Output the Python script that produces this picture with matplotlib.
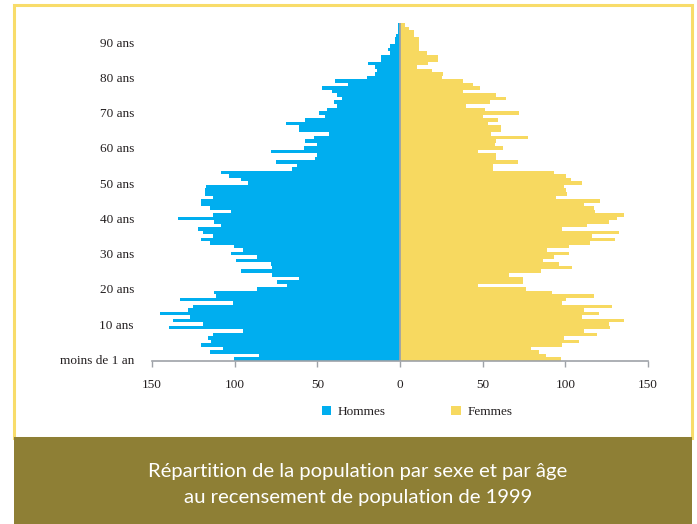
import matplotlib
matplotlib.use("Agg")
import matplotlib.pyplot as plt
from matplotlib.patches import Rectangle, Patch
import numpy as np

# population par âge (0 à 95 ans)
ages = np.arange(0, 96)
hommes = [100.4, 85.2, 114.9, 107.0, 120.3, 114.3, 116.1, 113.1, 94.9, 139.7,
          119.1, 137.2, 127.0, 145.1, 128.2, 125.2, 101.0, 133.0, 111.2, 112.5,
          86.5, 68.3, 74.4, 61.1, 77.4, 96.1, 77.4, 78.0, 99.2, 86.5,
          102.2, 94.9, 100.4, 114.9, 120.3, 113.1, 119.1, 122.1, 108.2, 112.5,
          134.2, 113.1, 102.2, 114.9, 120.3, 120.3, 113.1, 117.9, 117.9, 117.3,
          91.9, 96.1, 103.4, 108.2, 65.3, 62.3, 75.0, 51.4, 50.2, 78.0,
          58.0, 50.2, 57.4, 52.0, 42.9, 61.1, 61.1, 68.9, 57.4, 45.3,
          49.0, 44.1, 38.1, 39.9, 35.1, 38.1, 41.1, 47.2, 31.4, 39.3,
          20.0, 15.1, 13.9, 15.1, 19.3, 11.5, 11.5, 6.0, 7.3, 6.0,
          3.0, 3.0, 2.4, 1.2, 1.2, 1.2]
femmes = [97.3, 88.3, 84.0, 79.2, 97.9, 108.2, 99.2, 119.1, 111.2, 127.0,
          126.4, 135.4, 110.0, 120.3, 111.2, 128.2, 97.9, 100.4, 117.3, 91.9,
          76.2, 47.2, 74.4, 74.4, 65.9, 85.2, 104.0, 96.1, 86.5, 93.1,
          102.2, 88.9, 102.2, 114.9, 130.0, 116.1, 132.4, 97.9, 113.1, 126.4,
          131.2, 135.4, 117.9, 117.3, 111.2, 120.9, 94.3, 101.0, 100.4, 99.2,
          110.0, 103.4, 100.4, 93.1, 56.2, 56.2, 71.3, 58.0, 58.0, 47.2,
          62.3, 57.4, 58.0, 77.4, 55.0, 61.1, 61.1, 53.2, 59.2, 50.2,
          71.9, 51.4, 39.9, 54.4, 64.1, 58.0, 38.1, 48.4, 44.1, 38.1,
          25.4, 26.0, 19.3, 10.3, 16.9, 23.0, 23.0, 16.3, 11.5, 11.5,
          11.5, 11.5, 8.5, 8.5, 5.4, 3.0]

x_ticks = [-150, -100, -50, 0, 50, 100, 150]
x_tick_labels = ["150", "100", "50", "0", "50", "100", "150"]
y_ticks = [0, 10, 20, 30, 40, 50, 60, 70, 80, 90]
y_tick_labels = ["moins de 1 an", "10 ans", "20 ans", "30 ans", "40 ans",
                 "50 ans", "60 ans", "70 ans", "80 ans", "90 ans"]

BLUE = "#00aeef"
YELLOW = "#f7d960"
OLIVE = "#8e7f35"
GREY = "#9ea2a8"
TXT = "#231f20"

fig = plt.figure(figsize=(6.97, 5.24), dpi=100)

# cadre jaune + bandeau
fig.patches.append(Rectangle((14 / 697, 86 / 524), 678 / 697, 433 / 524,
                             transform=fig.transFigure, fill=False,
                             edgecolor="#f8dc6a", linewidth=2.2))
fig.patches.append(Rectangle((14 / 697, 0), 678 / 697, 87 / 524,
                             transform=fig.transFigure, facecolor=OLIVE,
                             edgecolor="none"))

ax = fig.add_axes([152 / 697, 163 / 524, 496 / 697, 338 / 524])
ax.barh(ages, [-v for v in hommes], height=1.0, color=BLUE, linewidth=0)
ax.barh(ages, femmes, height=1.0, color=YELLOW, linewidth=0)
ax.axvline(0, color=GREY, linewidth=1.3)

ax.set_xlim(-150, 150)
ax.set_ylim(-0.5, 95.5)
ax.set_xticks(x_ticks)
ax.set_xticklabels(x_tick_labels, family="Liberation Serif", fontsize=9.5, color=TXT)
ax.set_yticks(y_ticks)
ax.set_yticklabels(y_tick_labels, family="Liberation Serif", fontsize=9.5, color=TXT)
ax.tick_params(axis="y", length=0, pad=13)
ax.tick_params(axis="x", length=4, width=1, color=GREY, pad=9)
for s in ["top", "right", "left"]:
    ax.spines[s].set_visible(False)
ax.spines["bottom"].set_color(GREY)
ax.spines["bottom"].set_linewidth(1.2)

handles = [Patch(facecolor=BLUE, edgecolor="none", label="Hommes"),
           Patch(facecolor=YELLOW, edgecolor="none", label="Femmes")]
fig.legend(handles=handles, loc="center", bbox_to_anchor=(417 / 697, 1 - 412 / 524),
           ncol=2, frameon=False, handlelength=0.7, handleheight=0.7,
           handletextpad=0.5, columnspacing=5.0,
           prop={"family": "Liberation Serif", "size": 9.5})
for t in fig.legends[0].get_texts():
    t.set_color(TXT)

fig.text(358 / 697, 1 - 471 / 524, "Répartition de la population par sexe et par âge",
         ha="center", va="center", color="white", family="Lato", fontsize=14.6)
fig.text(358 / 697, 1 - 497 / 524, "au recensement de population de 1999",
         ha="center", va="center", color="white", family="Lato", fontsize=14.6)

fig.savefig("out.png", dpi=100)
